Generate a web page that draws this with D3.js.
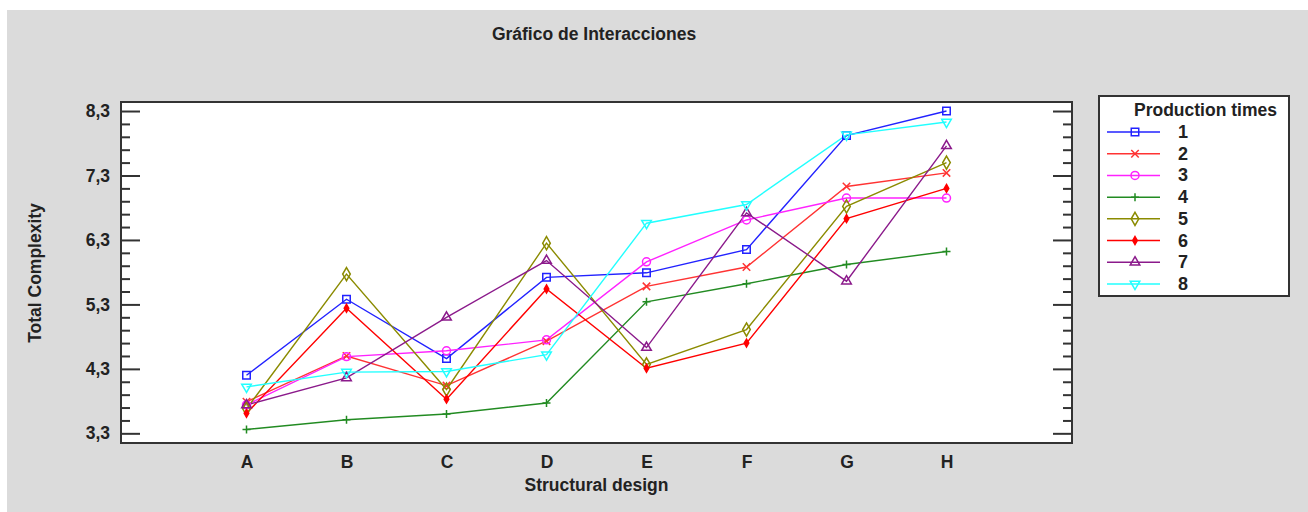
<!DOCTYPE html>
<html>
<head>
<meta charset="utf-8">
<script src="https://cdn.jsdelivr.net/npm/d3@7/dist/d3.min.js"></script>
<style>
  body { margin: 0; background: #fff; }
  svg text { font-family: "Liberation Sans", Arial, sans-serif; font-weight: bold; fill: #222; }
</style>
</head>
<body>
<div class="chart"></div>
<script>
// data
var designs = ["A", "B", "C", "D", "E", "F", "G", "H"];
var seriesNames = ["1", "2", "3", "4", "5", "6", "7", "8"];
var s1 = [4.20, 5.38, 4.46, 5.72, 5.79, 6.15, 7.92, 8.30];
var s2 = [3.79, 4.50, 4.04, 4.73, 5.58, 5.88, 7.13, 7.34];
var s3 = [3.74, 4.49, 4.58, 4.75, 5.96, 6.61, 6.95, 6.95];
var s4 = [3.36, 3.51, 3.60, 3.77, 5.34, 5.62, 5.92, 6.12];
var s5 = [3.68, 5.77, 3.98, 6.25, 4.37, 4.91, 6.82, 7.50];
var s6 = [3.61, 5.24, 3.83, 5.54, 4.31, 4.70, 6.63, 7.10];
var s7 = [3.74, 4.16, 5.10, 5.98, 4.63, 6.72, 5.66, 7.76];
var s8 = [4.02, 4.25, 4.26, 4.52, 6.56, 6.85, 7.93, 8.13];
var majorTicks = [3.3, 4.3, 5.3, 6.3, 7.3, 8.3];

var allSeries = [s1, s2, s3, s4, s5, s6, s7, s8];
var colors = ["#2222ff", "#ff3333", "#ff22ff", "#228b22", "#8b8b00", "#ff0000", "#8b1a8b", "#22ffff"];

var svgWidth = 1308, svgHeight = 512;
var plot = {left: 121, right: 1072, top: 102, bottom: 443};
var fontSize = 17.5;

var svg = d3.select(".chart")
    .append("svg")
    .attr("width", svgWidth)
    .attr("height", svgHeight);

// gray panel
svg.append("rect")
    .attr("x", 7).attr("y", 10)
    .attr("width", svgWidth - 7).attr("height", svgHeight - 10)
    .attr("fill", "#dbdbdb");

svg.append("rect")
    .attr("x", plot.left).attr("y", plot.top)
    .attr("width", plot.right - plot.left).attr("height", plot.bottom - plot.top)
    .attr("fill", "#fff");

var x = d3.scalePoint()
    .domain(designs)
    .range([plot.left, plot.right])
    .padding(1.255);

var y = d3.scaleLinear()
    .domain([3.15, 8.44])
    .range([plot.bottom, plot.top]);

var fmt = d3.formatLocale({decimal: ",", thousands: ".", grouping: [3], currency: ["", ""]}).format(".1f");

var minorTicks = d3.range(3.3, 8.4, 0.2).map(function(v) { return +v.toFixed(1); })
    .filter(function(v) { return majorTicks.indexOf(v) < 0; });

function styleAxis(g) {
    g.select(".domain").remove();
    g.selectAll("line").attr("stroke", "#333").attr("stroke-width", 2);
    g.selectAll("text").attr("font-size", fontSize).attr("fill", "#222");
}

// left axis
svg.append("g")
    .attr("transform", "translate(" + plot.left + ",0)")
    .call(d3.axisLeft(y).tickValues(majorTicks).tickFormat(fmt).tickSizeInner(-19).tickSizeOuter(0).tickPadding(11))
    .call(styleAxis);
svg.append("g")
    .attr("transform", "translate(" + plot.left + ",0)")
    .call(d3.axisLeft(y).tickValues(minorTicks).tickFormat("").tickSizeInner(-9).tickSizeOuter(0))
    .call(styleAxis);

// right axis (ticks only)
svg.append("g")
    .attr("transform", "translate(" + plot.right + ",0)")
    .call(d3.axisRight(y).tickValues(majorTicks).tickFormat("").tickSizeInner(-19).tickSizeOuter(0))
    .call(styleAxis);
svg.append("g")
    .attr("transform", "translate(" + plot.right + ",0)")
    .call(d3.axisRight(y).tickValues(minorTicks).tickFormat("").tickSizeInner(-9).tickSizeOuter(0))
    .call(styleAxis);

// bottom axis
svg.append("g")
    .attr("transform", "translate(0," + plot.bottom + ")")
    .call(d3.axisBottom(x).tickSize(0).tickPadding(13))
    .call(styleAxis);

// frame
svg.append("rect")
    .attr("x", plot.left).attr("y", plot.top)
    .attr("width", plot.right - plot.left).attr("height", plot.bottom - plot.top)
    .attr("fill", "none")
    .attr("stroke", "#333")
    .attr("stroke-width", 2);

// custom marker shapes
var symX = {draw: function(ctx, size) {
    var r = Math.sqrt(size) / 2;
    ctx.moveTo(-r, -r); ctx.lineTo(r, r);
    ctx.moveTo(-r, r); ctx.lineTo(r, -r);
}};
var symPlus = {draw: function(ctx, size) {
    var r = Math.sqrt(size) / 2;
    ctx.moveTo(-r, 0); ctx.lineTo(r, 0);
    ctx.moveTo(0, -r); ctx.lineTo(0, r);
}};
var markers = [
    {type: d3.symbolSquare, size: 56, fill: false, rot: 0},
    {type: symX, size: 56, fill: false, rot: 0},
    {type: d3.symbolCircle, size: 50, fill: false, rot: 0},
    {type: symPlus, size: 64, fill: false, rot: 0},
    {type: d3.symbolDiamond, size: 50, fill: false, rot: 0},
    {type: d3.symbolDiamond, size: 18, fill: true, rot: 0},
    {type: d3.symbolTriangle, size: 40, fill: false, rot: 0},
    {type: d3.symbolTriangle, size: 40, fill: false, rot: 180}
];

function drawMarker(g, i, cx, cy) {
    var m = markers[i];
    g.append("path")
        .attr("d", d3.symbol().type(m.type).size(m.size)())
        .attr("transform", "translate(" + cx + "," + cy + ") rotate(" + m.rot + ")")
        .attr("fill", m.fill ? colors[i] : "none")
        .attr("stroke", colors[i])
        .attr("stroke-width", 1.5);
}

var line = d3.line()
    .x(function(d, i) { return x(designs[i]); })
    .y(function(d) { return y(d); });

var lines = svg.append("g");
allSeries.forEach(function(vals, i) {
    lines.append("path")
        .attr("d", line(vals))
        .attr("fill", "none")
        .attr("stroke", colors[i])
        .attr("stroke-width", 1.4);
});
allSeries.forEach(function(vals, i) {
    vals.forEach(function(v, j) {
        drawMarker(lines, i, x(designs[j]), y(v));
    });
});

// titles
svg.append("text")
    .attr("x", 594).attr("y", 40)
    .attr("text-anchor", "middle")
    .attr("font-size", fontSize)
    .text("Gráfico de Interacciones");

svg.append("text")
    .attr("x", (plot.left + plot.right) / 2).attr("y", 491)
    .attr("text-anchor", "middle")
    .attr("font-size", fontSize)
    .text("Structural design");

svg.append("text")
    .attr("transform", "translate(41," + 273 + ") rotate(-90)")
    .attr("text-anchor", "middle")
    .attr("font-size", fontSize)
    .text("Total Complexity");

// legend
var legend = svg.append("g");
legend.append("rect")
    .attr("x", 1099).attr("y", 96)
    .attr("width", 190).attr("height", 200)
    .attr("fill", "#fff")
    .attr("stroke", "#333")
    .attr("stroke-width", 2);
legend.append("text")
    .attr("x", 1134).attr("y", 116)
    .attr("font-size", fontSize)
    .text("Production times");

var rowY = d3.scalePoint().domain(seriesNames).range([132, 284]);
seriesNames.forEach(function(name, i) {
    var ry = rowY(name);
    legend.append("line")
        .attr("x1", 1107).attr("x2", 1160)
        .attr("y1", ry).attr("y2", ry)
        .attr("stroke", colors[i])
        .attr("stroke-width", 1.5);
    drawMarker(legend, i, 1135, ry);
    legend.append("text")
        .attr("x", 1178).attr("y", ry + 6)
        .attr("font-size", 18)
        .text(name);
});
</script>
</body>
</html>
